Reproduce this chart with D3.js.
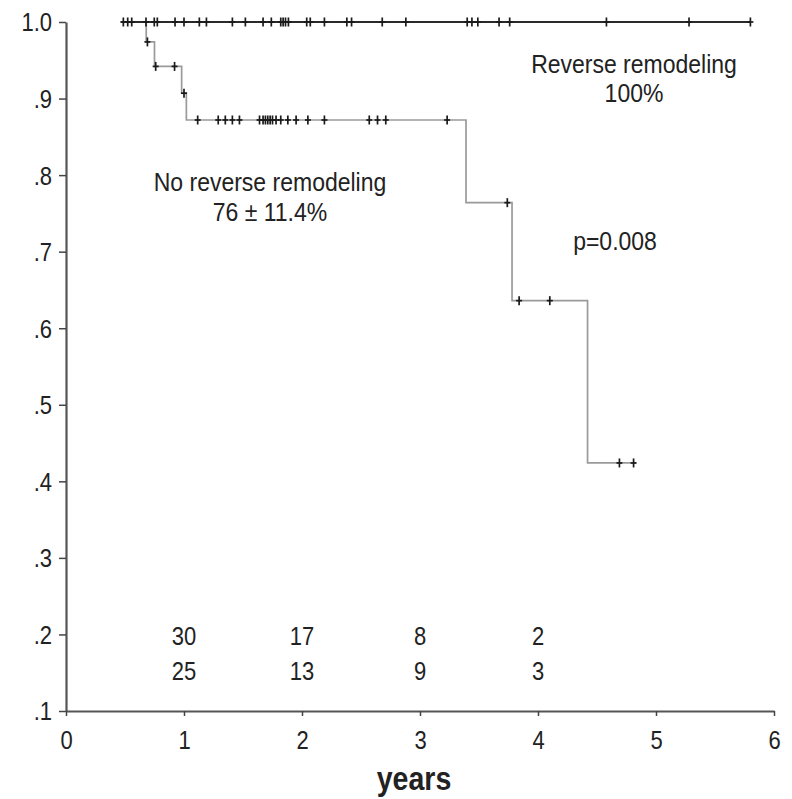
<!DOCTYPE html>
<html><head><meta charset="utf-8">
<script src="https://cdn.jsdelivr.net/npm/d3@7"></script>
<style>body{margin:0;background:#fff}svg{display:block}text{font-family:"Liberation Sans",Arial,sans-serif}</style>
</head><body>
<svg id="c" width="792" height="799"></svg>
<script>
// ---- data ----
const yTicks = [0.1,0.2,0.3,0.4,0.5,0.6,0.7,0.8,0.9,1.0];
const yTickLabels = [".1",".2",".3",".4",".5",".6",".7",".8",".9","1.0"];
const xTicks = [0,1,2,3,4,5,6];
const startTime = 0.47;
// Reverse remodeling group: survival stays 1.0
const topEnd = 5.80;
const topCensor = [0.486,0.523,0.557,0.678,0.748,0.774,0.924,1.0,1.13,1.19,1.41,1.52,1.67,1.74,1.82,1.84,1.86,1.885,2.04,2.07,2.19,2.38,2.42,2.68,2.88,3.40,3.44,3.49,3.67,3.76,4.58,5.28,5.80];
// No reverse remodeling group: event times and survival after each step
const lowTimes = [0.68,0.75,0.98,1.02,3.39,3.78,4.42];
const lowValues = [0.974,0.942,0.907,0.872,0.764,0.636,0.424];
const lowEnd = 4.83;
const lowCensor = [0.69,0.76,0.92,1.0,1.116,1.29,1.35,1.41,1.47,1.64,1.67,1.69,1.71,1.73,1.75,1.78,1.82,1.88,1.95,2.05,2.19,2.57,2.64,2.71,3.23,3.74,3.84,4.10,4.69,4.81];
const riskTimes = [1,2,3,4];
const riskRow1 = ["30","17","8","2"];
const riskRow2 = ["25","13","9","3"];

const SY = 1.13; // vertical stretch of the lettering
const svg = d3.select("#c");
const x = d3.scaleLinear().domain([0,6]).range([66,774]);
const y = d3.scaleLinear().domain([0.1,1.0]).range([711,22]);

// axes
const ya = svg.append("g").attr("transform","translate(66,0)")
  .call(d3.axisLeft(y).tickValues(yTicks).tickSize(7).tickSizeOuter(0).tickPadding(7)
    .tickFormat((d,i)=>yTickLabels[i]));
ya.select(".domain").attr("stroke","#555").attr("stroke-width",2.2);
ya.selectAll(".tick line").attr("stroke","#444").attr("stroke-width",1.5);
ya.selectAll(".tick text").attr("font-size",22).attr("fill","#222").attr("dy","0.36em")
  .attr("transform",`scale(1,${SY})`)
  .attr("font-family","'Liberation Sans',Arial,sans-serif");

const xa = svg.append("g").attr("transform","translate(0,711)")
  .call(d3.axisBottom(x).tickValues(xTicks).tickSize(5).tickSizeOuter(0).tickFormat(d3.format("d")));
xa.select(".domain").attr("stroke","#555").attr("stroke-width",2.2);
xa.selectAll(".tick line").attr("stroke","#444").attr("stroke-width",1.5);
xa.selectAll(".tick text").attr("font-size",22).attr("fill","#222").attr("y",37/SY + 1).attr("dy",0)
  .attr("transform",`scale(1,${SY})`)
  .attr("font-family","'Liberation Sans',Arial,sans-serif");

// survival helper
function lowAt(t){let v=1.0;for(let i=0;i<lowTimes.length;i++){if(t>=lowTimes[i])v=lowValues[i];}return v;}

// lower curve (step)
const lowPts = [[startTime,1.0]].concat(lowTimes.map((t,i)=>[t,lowValues[i]])).concat([[lowEnd,lowValues[lowValues.length-1]]]);
const stepLine = d3.line().x(d=>x(d[0])).y(d=>y(d[1])).curve(d3.curveStepAfter);
svg.append("path").attr("d",stepLine(lowPts)).attr("fill","none").attr("stroke","#9a9a9a").attr("stroke-width",1.7);

// top line
svg.append("path").attr("d",d3.line().x(d=>x(d[0])).y(d=>y(d[1]))([[startTime,1.0],[topEnd,1.0]]))
  .attr("fill","none").attr("stroke","#2a2a2a").attr("stroke-width",1.8);

// censor marks ("+")
function marks(times, fn){
  const g = svg.append("g").attr("stroke","#1a1a1a").attr("stroke-width",1.7);
  g.selectAll(".v").data(times).join("line")
    .attr("x1",d=>x(d)).attr("x2",d=>x(d))
    .attr("y1",d=>y(fn(d))-4.5).attr("y2",d=>y(fn(d))+4.5);
  g.selectAll(".h").data(times).join("line")
    .attr("x1",d=>x(d)-3).attr("x2",d=>x(d)+3)
    .attr("y1",d=>y(fn(d))).attr("y2",d=>y(fn(d)));
}
marks(topCensor, ()=>1.0);
marks(lowCensor, lowAt);

// annotations
function label(g, xx, yy, txt){
  g.append("text").attr("transform",`translate(${xx},${yy}) scale(1,${SY})`).text(txt);
}
const ann = svg.append("g").attr("font-size",23).attr("fill","#222").attr("text-anchor","middle");
label(ann,634,73,"Reverse remodeling");
label(ann,634,102,"100%");
label(ann,270,191,"No reverse remodeling");
label(ann,270,221,"76 ± 11.4%");
label(ann,615,250,"p=0.008");

// numbers at risk
const risk = svg.append("g").attr("font-size",22).attr("fill","#222").attr("text-anchor","middle");
risk.selectAll(".r1").data(riskTimes).join("text")
  .attr("transform",d=>`translate(${x(d)},645) scale(1,${SY})`).text((d,i)=>riskRow1[i]);
risk.selectAll(".r2").data(riskTimes).join("text")
  .attr("transform",d=>`translate(${x(d)},680) scale(1,${SY})`).text((d,i)=>riskRow2[i]);

// x title
svg.append("text").attr("transform",`translate(414,790) scale(0.95,1.12)`).attr("text-anchor","middle")
  .attr("font-size",30).attr("font-weight","bold").attr("fill","#222").text("years");
</script>
</body></html>
